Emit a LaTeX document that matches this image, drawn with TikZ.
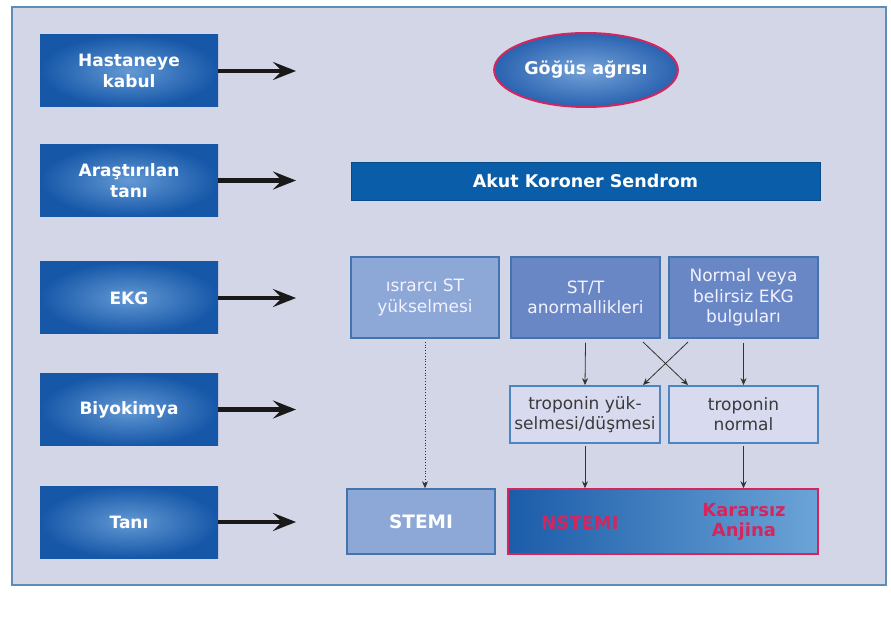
\documentclass[tikz,border=0pt]{standalone}
\usepackage{fontspec}
\setmainfont{DejaVu Sans}
\usetikzlibrary{arrows.meta,shapes.geometric,calc}
\definecolor{framebg}{HTML}{D3D6E6}
\definecolor{frameline}{HTML}{5F8DB8}
\definecolor{boxdark}{HTML}{1657A8}
\definecolor{boxlight}{HTML}{6399D4}
\definecolor{aks}{HTML}{0A5EA9}
\definecolor{ekglight}{HTML}{8DA7D6}
\definecolor{ekgdark}{HTML}{6A87C5}
\definecolor{ekgline}{HTML}{4474AE}
\definecolor{tropfill}{HTML}{D8DBF0}
\definecolor{tropline}{HTML}{4C86C0}
\definecolor{crimson}{HTML}{D3265F}
\definecolor{troptext}{HTML}{3A3A3A}
\definecolor{ovalin}{HTML}{74A3D9}
\definecolor{ovalout}{HTML}{2A62B0}
\definecolor{nsleft}{HTML}{1B5CA9}
\definecolor{nsright}{HTML}{6BA4D7}
\tikzset{
  stage/.style={rectangle, draw=none, minimum width=178pt, minimum height=72pt,
    inner color=boxlight, outer color=boxdark, text=white, align=center,
    font=\bfseries\fontsize{17}{21}\selectfont},
  bigarrow/.style={-{Stealth[length=23pt,width=18pt,inset=9pt]}, line width=4.2pt, draw=black!90},
  ekgbox/.style={rectangle, draw=ekgline, line width=1.5pt, minimum width=148pt,
    minimum height=81pt, text=white!95!blue, align=center, font=\fontsize{17}{20.5}\selectfont},
  tropbox/.style={rectangle, draw=tropline, line width=1.8pt, fill=tropfill, minimum width=149pt,
    minimum height=57pt, text=troptext, align=center, font=\fontsize{17}{20}\selectfont},
  smallarrow/.style={-{Stealth[length=7pt,width=6pt]}, line width=0.8pt, draw=black!80},
  redtext/.style={text=crimson, align=center, font=\bfseries\fontsize{18}{20}\selectfont},
}
\begin{document}
\begin{tikzpicture}[x=1pt,y=-1pt]
\useasboundingbox (0,0) rectangle (891,617);
\fill[white] (0,0) rectangle (891,617);
\draw[fill=framebg, draw=frameline, line width=1.2pt] (12,7) rectangle (886,585);

% left column
\node[stage] (s1) at (129,71) {Hastaneye\\kabul};
\node[stage] (s2) at (129,180.5) {Araştırılan\\tanı};
\node[stage] (s3) at (129,298) {EKG};
\node[stage] (s4) at (129,409.5) {Biyokimya};
\node[stage] (s5) at (129,522) {Tanı};

\coordinate (e1) at (296,71);
\coordinate (e2) at (296,180.5);
\coordinate (e3) at (296,298);
\coordinate (e4) at (296,409.5);
\coordinate (e5) at (296,522);
\foreach \i in {1,...,5} \draw[bigarrow] (s\i.east) -- (e\i);

% oval
\node[ellipse, draw=crimson, line width=2pt, minimum width=176pt, minimum height=74pt,
  inner color=ovalin, outer color=ovalout, text=white,
  font=\bfseries\fontsize{17.5}{20}\selectfont] (gogus) at (586,70) {Göğüs ağrısı};

% AKS bar
\node[rectangle, fill=aks, draw=aks!80!black, line width=0.6pt, minimum width=469pt, minimum height=38pt,
  text=white, font=\bfseries\fontsize{17.5}{20}\selectfont] (aks) at (585.5,181) {Akut Koroner Sendrom};

% EKG row
\node[ekgbox, fill=ekglight] (ea) at (425,297.5) {ısrarcı ST\\yükselmesi};
\node[ekgbox, fill=ekgdark, minimum width=149pt] (eb) at (585.5,297.5) {ST/T\\anormallikleri};
\node[ekgbox, fill=ekgdark, minimum width=149pt] (ec) at (743.5,297.5) {Normal veya\\belirsiz EKG\\bulguları};

% troponin row
\node[tropbox, minimum width=150pt] (t1) at (585,414.5) {troponin yük-\\selmesi/düşmesi};
\node[tropbox] (t2) at (743.5,414.5) {troponin\\normal};

% diagnosis row
\node[rectangle, draw=ekgline, line width=1.5pt, fill=ekglight, minimum width=148pt, minimum height=65pt,
  text=white, font=\bfseries\fontsize{18.5}{20}\selectfont] (stemi) at (421,521.5) {STEMI};
\node[rectangle, draw=crimson, line width=1.5pt, left color=nsleft, right color=nsright,
  minimum width=310pt, minimum height=65pt] (ns) at (663,521.5) {};
\node[redtext] (nstemi) at (580,523) {NSTEMI};
\node[redtext] (kararsiz) at (744,521.5) {Kararsız\\Anjina};

% connectors
\draw[smallarrow] ([yshift=-4pt]eb.south) -- (t1.north);
\draw[smallarrow] ([yshift=-4pt]ec.south) -- (t2.north);
\draw[smallarrow] ([yshift=-2pt]t1.south) -- (t1.south |- ns.north);
\draw[smallarrow] ([yshift=-2pt]t2.south) -- (t2.south |- ns.north);
\draw[smallarrow, dotted] ([yshift=-3pt]ea.south) -- (ea.south |- stemi.north);

\coordinate (x1) at (643,342);
\coordinate (x2) at (688,385);
\coordinate (x3) at (688,342);
\coordinate (x4) at (643,385);
\draw[smallarrow] (x1) -- (x2);
\draw[smallarrow] (x3) -- (x4);
\end{tikzpicture}
\end{document}
